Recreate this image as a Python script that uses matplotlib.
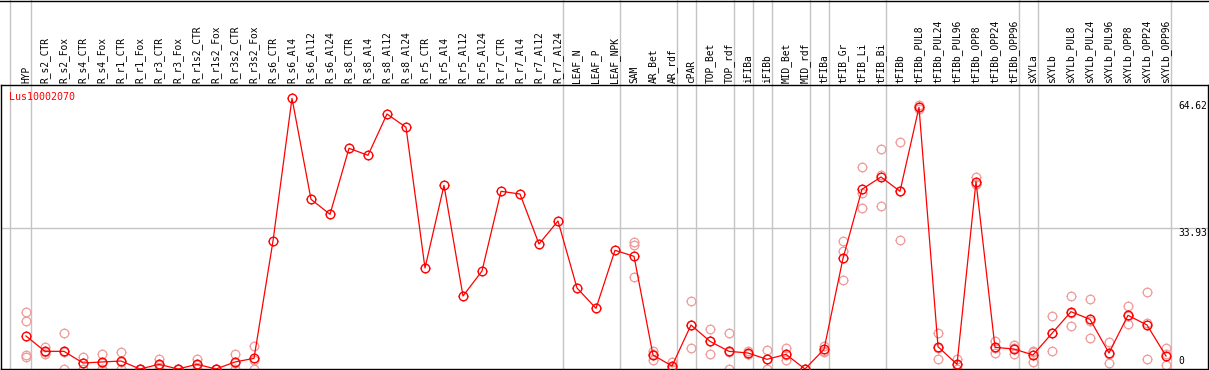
import matplotlib
matplotlib.use("Agg")
import matplotlib.pyplot as plt
import matplotlib.transforms as mtransforms
from matplotlib.path import Path
from matplotlib.lines import Line2D

# ---------------- data ----------------
gene = "Lus10002070"

categories = [
    "HYP", "R_s2_CTR", "R_s2_Fox", "R_s4_CTR", "R_s4_Fox", "R_r1_CTR", "R_r1_Fox",
    "R_r3_CTR", "R_r3_Fox", "R_r1s2_CTR", "R_r1s2_Fox", "R_r3s2_CTR", "R_r3s2_Fox",
    "R_s6_CTR", "R_s6_Al4", "R_s6_Al12", "R_s6_Al24", "R_s8_CTR", "R_s8_Al4",
    "R_s8_Al12", "R_s8_Al24", "R_r5_CTR", "R_r5_Al4", "R_r5_Al12", "R_r5_Al24",
    "R_r7_CTR", "R_r7_Al4", "R_r7_Al12", "R_r7_Al24", "LEAF_N", "LEAF_P", "LEAF_NPK",
    "SAM", "AR_Bet", "AR_rdf", "cPAR", "TOP_Bet", "TOP_rdf", "iFIBa", "iFIBb",
    "MID_Bet", "MID_rdf", "tFIBa", "tFIB_Gr", "tFIB_Li", "tFIB_Bi", "tFIBb",
    "tFIBb_PUL8", "tFIBb_PUL24", "tFIBb_PUL96", "tFIBb_OPP8", "tFIBb_OPP24",
    "tFIBb_OPP96", "sXYLa", "sXYLb", "sXYLb_PUL8", "sXYLb_PUL24", "sXYLb_PUL96",
    "sXYLb_OPP8", "sXYLb_OPP24", "sXYLb_OPP96",
]

mean_values = [
    7.96, 4.26, 4.26, 1.45, 1.69, 1.93, 0.0,
    1.13, 0.0, 1.13, 0.0, 1.69, 2.57,
    30.87, 65.27, 40.92, 37.30, 53.22, 51.53,
    61.49, 58.28, 24.36, 44.29, 17.60, 23.63,
    42.85, 42.20, 30.14, 35.69, 19.53, 14.63, 28.62,
    27.17, 3.38, 0.72, 10.61, 6.67, 4.26, 3.86, 2.33,
    3.53, 0.0, 4.74, 26.68, 43.33, 46.30, 42.85,
    63.11, 5.38, 1.13, 45.17, 5.22,
    4.82, 3.38, 8.60, 13.82, 11.98, 3.86,
    12.95, 10.61, 3.13,
]

replicates = [
    [13.7, 11.5, 3.4, 2.9], [5.2, 3.5, 4.1], [8.7, 4.1, 0.0], [2.9, 1.5, 0.0],
    [3.6, 1.5, 0.0], [4.1, 1.7, 0.0], [0.0, 0.0, 0.0],
    [2.4, 1.0, 0.0], [0.0, 0.0, 0.0], [2.4, 1.0, 0.0], [0.0, 0.0, 0.0],
    [3.6, 1.5, 0.0], [5.5, 2.2, 0.0],
    [], [], [], [], [], [],
    [], [], [], [], [], [],
    [], [], [], [], [], [], [],
    [30.7, 30.0, 22.1], [4.4, 3.6, 2.1], [1.6, 0.6, 0.0], [16.3, 10.5, 5.0],
    [9.6, 6.8, 3.6], [8.6, 4.2, 0.0], [4.4, 3.6, 3.5], [4.7, 2.3, 0.0],
    [5.1, 3.4, 2.1], [0.0, 0.0, 0.0], [5.6, 4.4, 4.2], [30.8, 28.5, 21.4],
    [48.6, 42.4, 38.8], [53.0, 46.8, 39.2], [54.7, 42.9, 31.0],
    [63.7, 63.1, 62.6], [8.7, 5.1, 2.3], [2.4, 1.0, 0.0], [46.3, 44.7, 44.5],
    [6.8, 5.0, 3.9], [5.9, 5.0, 3.6], [4.4, 4.1, 1.6], [12.8, 8.7, 4.3],
    [17.5, 13.6, 10.3], [16.9, 11.6, 7.4], [6.4, 3.7, 1.5],
    [15.2, 12.9, 10.8], [18.5, 11.0, 2.3], [5.0, 3.5, 1.0],
]

# groups end after these categories (vertical separators)
group_ends = ["HYP", "R_r7_Al24", "LEAF_NPK", "AR_rdf", "cPAR", "TOP_rdf", "iFIBa",
              "iFIBb", "MID_rdf", "tFIBa", "tFIB_Bi", "tFIBb_OPP96", "sXYLa",
              "sXYLb_OPP96"]

y_ticks = [64.62, 33.93, 0]

# ---------------- figure ----------------
W, H = 1209, 370
DPI = 100
fig = plt.figure(figsize=(W / DPI, H / DPI), dpi=DPI)

ax_left, ax_right, ax_top, ax_bottom = 1, 1208, 85, 369
ax = fig.add_axes([ax_left / W, (H - ax_bottom) / H,
                   (ax_right - ax_left) / W, (ax_bottom - ax_top) / H])

step = 19.0
x0 = 26.0
ax.set_xlim((ax_left - x0) / step, (ax_right - x0) / step)
px_per_unit = 4.147
ax.set_ylim(0, (ax_bottom - ax_top) / px_per_unit)

red = "#ff0000"
pink = "#f09a9a"
grid_c = "#c4c4c4"

# small tick marks around the circle markers (N, S, E, W)
tick_ratio = 1.22
tick_verts, tick_codes = [], []
for a, b in [((0, 1), (0, tick_ratio)), ((0, -1), (0, -tick_ratio)),
             ((1, 0), (tick_ratio, 0)), ((-1, 0), (-tick_ratio, 0))]:
    tick_verts += [a, b]
    tick_codes += [Path.MOVETO, Path.LINETO]
tick_mk = Path(tick_verts, tick_codes)
circle_ms = 6.2
tick_ms = circle_ms * tick_ratio

xs = list(range(len(categories)))

# vertical separators extending through label area
ext = ax_bottom / (ax_bottom - ax_top)
sep_offset = 0.247
ax.axvline(-1 + 0.16, ymin=0, ymax=ext, color=grid_c, lw=1.0, clip_on=False, zorder=0)
for name in group_ends:
    i = categories.index(name)
    ax.axvline(i + sep_offset, ymin=0, ymax=ext, color=grid_c, lw=1.0,
               clip_on=False, zorder=0)

# horizontal grid line
ax.axhline(y_ticks[1], color=grid_c, lw=1.0, zorder=0)

# replicates
rx, ry = [], []
for i, reps in enumerate(replicates):
    for v in reps:
        rx.append(i)
        ry.append(v)
ax.plot(rx, ry, linestyle="none", marker="o", markersize=circle_ms,
        markerfacecolor="none", markeredgecolor=pink, markeredgewidth=0.9, zorder=2)
ax.plot(rx, ry, linestyle="none", marker=tick_mk, markersize=tick_ms,
        markeredgecolor=pink, markeredgewidth=0.8, zorder=2)

# mean line
ax.plot(xs, mean_values, color=red, lw=0.9, marker="o", markersize=circle_ms,
        markerfacecolor="none", markeredgecolor=red, markeredgewidth=1.0, zorder=3)
ax.plot(xs, mean_values, linestyle="none", marker=tick_mk, markersize=tick_ms,
        markeredgecolor=red, markeredgewidth=0.9, zorder=3)

# category labels at top
ax.xaxis.tick_top()
ax.set_xticks(xs)
ax.set_xticklabels(categories, rotation=90, fontfamily="DejaVu Sans Mono",
                   fontsize=6.9)
ax.tick_params(axis="x", length=0, pad=1.5)
ax.set_yticks([])

for s in ax.spines.values():
    s.set_color("black")
    s.set_linewidth(1.0)

# gene name
ax.text(8.3 / (ax_right - ax_left), 1 - 12.5 / (ax_bottom - ax_top), gene,
        transform=ax.transAxes, color=red, fontfamily="DejaVu Sans Mono",
        fontsize=7.2, ha="left", va="center")

# y value labels at right
trans = mtransforms.blended_transform_factory(ax.transAxes, ax.transData)
lx = (1178 - ax_left) / (ax_right - ax_left)
for v in y_ticks:
    if v == 0:
        ax.annotate("0", xy=(lx, 0), xycoords=trans, xytext=(0, 2.5),
                    textcoords="offset points", ha="left", va="bottom",
                    fontfamily="DejaVu Sans Mono", fontsize=6.9, color="black")
    else:
        ax.text(lx, v, f"{v:.2f}", transform=trans, ha="left", va="top",
                fontfamily="DejaVu Sans Mono", fontsize=6.9, color="black")

# top border of the figure
fig.add_artist(Line2D([0, 1], [1 - 0.5 / H, 1 - 0.5 / H], transform=fig.transFigure,
                      color="black", lw=1.0))

fig.savefig("out.png", dpi=DPI)
